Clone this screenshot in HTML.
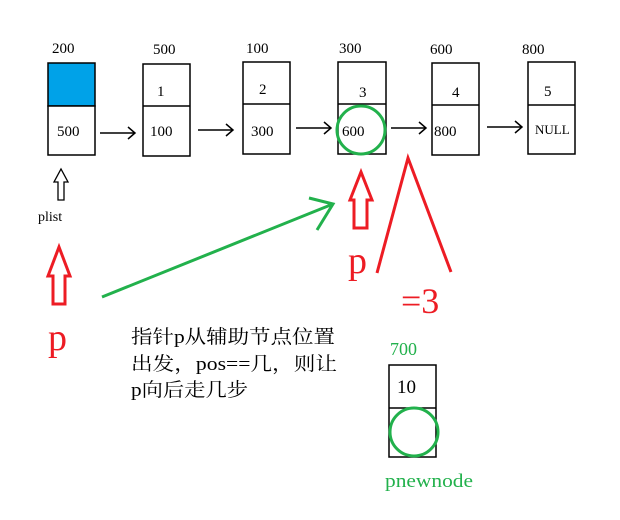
<!DOCTYPE html>
<html><head><meta charset="utf-8"><style>
html,body{margin:0;padding:0;background:#fff}
svg{display:block}
text{font-family:"Liberation Serif","Noto Serif CJK SC",serif}
</style></head><body>
<svg width="620" height="520" viewBox="0 0 620 520" xmlns="http://www.w3.org/2000/svg">
<g fill="#fff" stroke="#000" stroke-width="1.5">
<rect x="48" y="63" width="47" height="43" fill="#00a2e8"/>
<rect x="48" y="106" width="47" height="49"/>
<rect x="143" y="64" width="47" height="92"/><line x1="143" y1="106" x2="190" y2="106"/>
<rect x="243" y="62" width="47" height="92"/><line x1="243" y1="104" x2="290" y2="104"/>
<rect x="338" y="62" width="48" height="92"/><line x1="338" y1="104" x2="386" y2="104"/>
<rect x="432" y="63" width="47" height="92"/><line x1="432" y1="105" x2="479" y2="105"/>
<rect x="528" y="62" width="47" height="92"/><line x1="528" y1="105" x2="575" y2="105"/>
<rect x="389" y="365" width="47" height="92"/><line x1="389" y1="408" x2="436" y2="408"/>
</g>
<g stroke="#000" stroke-width="1.5" fill="none">
<path d="M100 133H134M128 127L135 133L128 139"/>
<path d="M198 130H232M226 124L233 130L226 136"/>
<path d="M296 128H330M324 122L331 128L324 134"/>
<path d="M391 128H425M419 122L426 128L419 134"/>
<path d="M487 127H521M515 121L522 127L515 133"/>
<path d="M58 200V182H54L61 169L68 182H64V200Z" stroke-width="1.3"/>
</g>
<g font-size="15" fill="#000">
<text x="52" y="53">200</text><text x="153" y="54">500</text><text x="246" y="53">100</text>
<text x="339" y="53">300</text><text x="430" y="54">600</text><text x="522" y="54">800</text>
<text x="157" y="96">1</text><text x="259" y="94">2</text><text x="359" y="97">3</text>
<text x="452" y="97">4</text><text x="544" y="96">5</text>
<text x="57" y="136">500</text><text x="150" y="136">100</text><text x="251" y="136">300</text>
<text x="342" y="136">600</text><text x="434" y="136">800</text><text x="535" y="134" font-size="13">NULL</text>
<text x="397" y="393" font-size="19">10</text>
<text x="38" y="221" font-size="14" font-family="Liberation Mono">plist</text>
</g>
<g stroke="#22b14c" stroke-width="3" fill="none">
<circle cx="361" cy="130" r="24"/>
<circle cx="414" cy="432" r="24"/>
<path d="M102 297L333 204M309 198L333 204L317 230"/>
</g>
<g stroke="#ed1c24" stroke-width="3" fill="none">
<path d="M354 228V200H350L361 172L372 200H367V228Z"/>
<path d="M53 304V276H48L59 247L70 276H65V304Z"/>
<path d="M377 273L408 158L451 272"/>
</g>
<g fill="#ed1c24">
<text x="348" y="273" font-size="38">p</text>
<text x="48" y="350" font-size="38">p</text>
<text x="401" y="313" font-size="36">=3</text>
</g>
<g fill="#22b14c">
<text x="390" y="355" font-size="18">700</text>
<text x="385" y="487" font-size="19" textLength="88" lengthAdjust="spacingAndGlyphs">pnewnode</text>
</g>
<g font-size="19" fill="#000">
<text x="131" y="343" textLength="204" lengthAdjust="spacingAndGlyphs">指针p从辅助节点位置</text>
<text x="131" y="370" textLength="206" lengthAdjust="spacingAndGlyphs">出发，pos==几，则让</text>
<text x="131" y="396" textLength="117" lengthAdjust="spacingAndGlyphs">p向后走几步</text>
</g>
</svg>
</body></html>
